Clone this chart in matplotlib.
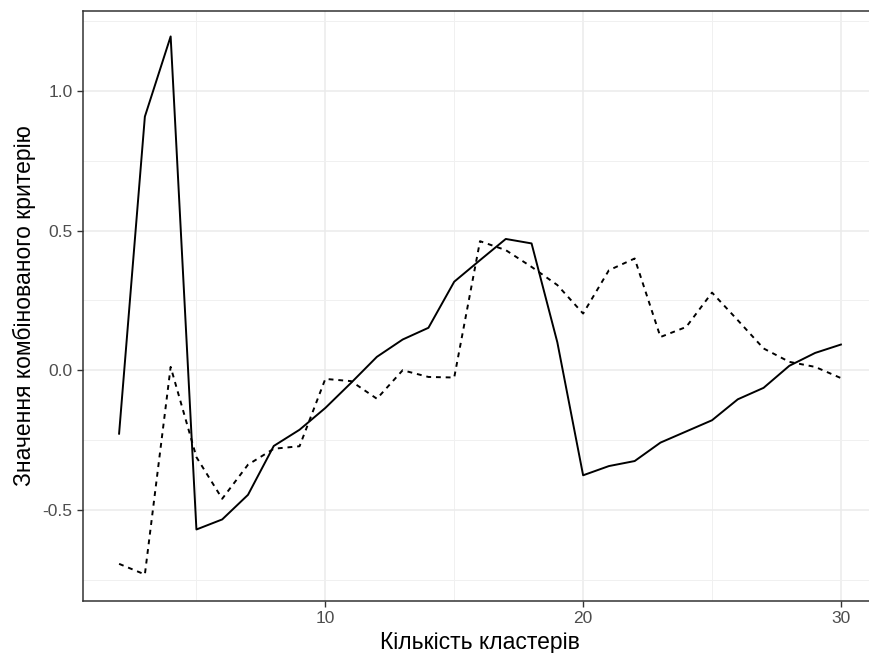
import matplotlib
matplotlib.use("Agg")
import matplotlib.pyplot as plt
from matplotlib.ticker import MultipleLocator

plt.rcParams['font.family'] = ['Liberation Sans', 'DejaVu Sans']

clusters = list(range(2, 31))
solid_values = [-0.227, 0.908, 1.195, -0.570, -0.534, -0.446, -0.271, -0.213, -0.135,
                -0.045, 0.048, 0.110, 0.152, 0.317, 0.394, 0.470, 0.454, 0.100, -0.376,
                -0.343, -0.325, -0.259, -0.219, -0.179, -0.104, -0.063, 0.016, 0.062, 0.092]
dashed_values = [-0.693, -0.731, 0.012, -0.311, -0.460, -0.338, -0.281, -0.272, -0.031,
                 -0.039, -0.102, 0.000, -0.024, -0.026, 0.462, 0.430, 0.370, 0.305, 0.203,
                 0.358, 0.400, 0.119, 0.155, 0.278, 0.179, 0.078, 0.030, 0.012, -0.028]
x_ticks = [10, 20, 30]
y_ticks = [-0.5, 0.0, 0.5, 1.0]
y_tick_labels = ["-0.5", "0.0", "0.5", "1.0"]
x_label = "Кількість кластерів"
y_label = "Значення комбінованого критерію"

fig = plt.figure(figsize=(8.7, 6.53), dpi=100)
ax = fig.add_axes([83/870, 1 - 601/653, (877-83)/870, (601-11)/653])

ax.plot(clusters, solid_values, color='black', lw=1.4)
ax.plot(clusters, dashed_values, color='black', lw=1.4, linestyle=(0, (2.5, 2.5)))

ax.set_xlim(0.6, 31.4)
ax.set_ylim(-0.826, 1.286)
ax.set_xticks(x_ticks)
ax.set_xticklabels([str(t) for t in x_ticks])
ax.set_yticks(y_ticks)
ax.set_yticklabels(y_tick_labels)
ax.xaxis.set_minor_locator(MultipleLocator(5))
ax.yaxis.set_minor_locator(MultipleLocator(0.25))

ax.grid(which='major', color='#EBEBEB', lw=1.1)
ax.grid(which='minor', color='#F0F0F0', lw=0.7)
ax.set_axisbelow(True)

for s in ax.spines.values():
    s.set_color('#333333')
    s.set_linewidth(1.1)

ax.tick_params(which='major', length=4.5, width=1.0, color='#333333',
               labelcolor='#4D4D4D', labelsize=12.5, pad=3)
ax.tick_params(which='minor', length=0)

ax.set_xlabel(x_label, fontsize=16.5, color='black', labelpad=3)
ax.set_ylabel(y_label, fontsize=16.5, color='black', labelpad=5)

fig.savefig('out.png', dpi=100)
